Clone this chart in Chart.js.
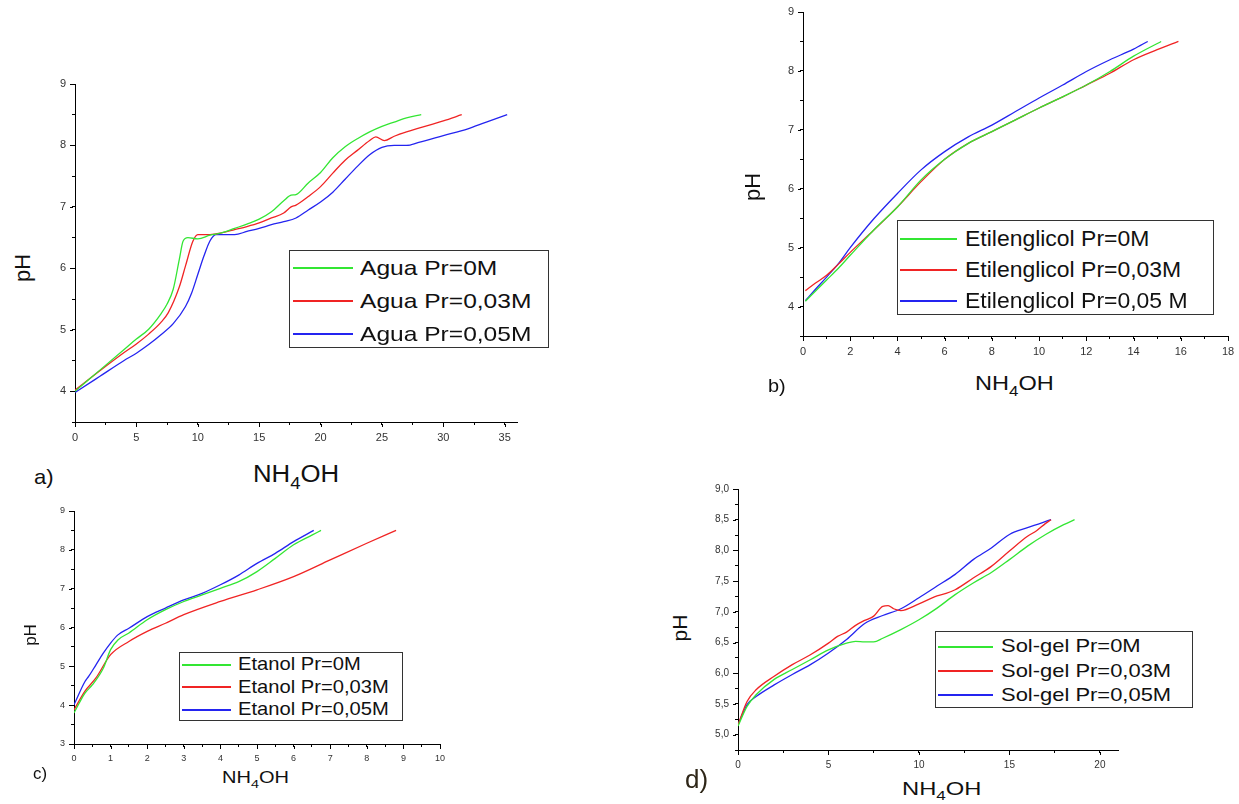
<!DOCTYPE html>
<html>
<head>
<meta charset="utf-8">
<script src="https://cdn.jsdelivr.net/npm/chart.js@4.4.0/dist/chart.umd.min.js"></script>
<style>
body{margin:0;background:#fff;width:1239px;height:804px;position:relative;overflow:hidden;font-family:"Liberation Sans",Arial,sans-serif;color:#111}
canvas{position:absolute}
.t{position:absolute;line-height:1;white-space:nowrap;transform-origin:0 0}
.t sub{font-size:0.72em;line-height:0;vertical-align:-0.4em}
.v{position:absolute;line-height:1;white-space:nowrap;transform:translate(-50%,-50%) rotate(-90deg)}
.lg{position:absolute;border:1px solid #333;box-sizing:border-box;background:#fff}
.sw{position:absolute;height:2px}
.lt{position:absolute;white-space:nowrap;transform-origin:0 50%;color:#111}
</style>
</head>
<body>
<script>
// a) Agua
var aguaX0 = [0,2,4,5,6,7,7.5,8,8.5,8.8,9.2,10,11,12,13,14,15,16,17,17.6,18,19,20,21,22,23,24,25,26,27,28.2];
var aguaY0 = [4.0,4.34,4.68,4.85,5.01,5.26,5.42,5.66,6.15,6.44,6.5,6.48,6.54,6.58,6.65,6.72,6.8,6.92,7.1,7.19,7.2,7.39,7.56,7.8,7.98,8.11,8.22,8.31,8.38,8.45,8.5];
var aguaX03 = [0,2,4,5,6,7,7.6,8.5,9,9.6,10,11,12,13,14,15,16,17,17.6,18,19,20,21,22,23,24,24.5,25.2,26,27,28,29,30,31.5];
var aguaY03 = [4.02,4.33,4.63,4.77,4.93,5.12,5.28,5.7,6.04,6.44,6.55,6.55,6.58,6.63,6.68,6.74,6.82,6.9,7.0,7.03,7.17,7.33,7.55,7.76,7.92,8.08,8.14,8.08,8.15,8.22,8.28,8.34,8.4,8.5];
var aguaX05 = [0,2,4,5,6,7,8,9,9.5,10,10.5,11,11.5,12,13,14,15,16,17,18,19,20,21,22,23,24,25,26,27,28,30,32,33.5,35.2];
var aguaY05 = [3.98,4.24,4.5,4.62,4.76,4.92,5.1,5.38,5.6,5.9,6.2,6.45,6.55,6.55,6.55,6.6,6.65,6.71,6.76,6.82,6.95,7.08,7.24,7.45,7.66,7.85,7.97,8.0,8.0,8.05,8.16,8.27,8.38,8.5];

// b) Etilenglicol
var etilX0 = [0.1,0.5,1,1.5,2,3,4,5,6,7,8,9,10,11,12,13,14,15.17];
var etilY0 = [4.09,4.25,4.45,4.65,4.87,5.3,5.69,6.15,6.5,6.77,6.97,7.17,7.37,7.56,7.76,7.99,8.25,8.5];
var etilX03 = [0.1,0.5,1,1.5,2,3,4,5,6,7,8,9,10,11,12,13,14,15,15.9];
var etilY03 = [4.27,4.39,4.53,4.72,4.92,5.3,5.69,6.12,6.5,6.77,6.97,7.17,7.37,7.56,7.76,7.96,8.19,8.36,8.5];
var etilX05 = [0.1,0.5,1,1.5,2,3,4,5,6,7,8,9,10,11,12,13,14,14.6];
var etilY05 = [4.1,4.28,4.5,4.73,5.0,5.49,5.92,6.32,6.63,6.88,7.08,7.31,7.54,7.76,7.99,8.19,8.37,8.5];

// c) Etanol
var etanX0 = [0,0.3,0.5,0.8,1,1.2,1.5,2,2.5,3,3.5,4,4.5,5,5.5,6,6.5,6.75];
var etanY0 = [3.8,4.31,4.52,4.95,5.43,5.68,5.86,6.2,6.46,6.67,6.84,7.01,7.18,7.44,7.78,8.13,8.38,8.5];
var etanX03 = [0,0.3,0.6,1,1.5,2,2.5,3,4,5,6,7,8,8.8];
var etanY03 = [3.88,4.36,4.7,5.3,5.64,5.9,6.11,6.33,6.67,6.97,7.31,7.74,8.17,8.5];
var etanX05 = [0,0.3,0.4,0.6,0.8,1,1.2,1.5,2,2.5,3,3.5,4,4.5,5,5.5,6,6.55];
var etanY05 = [4.01,4.61,4.74,5.04,5.34,5.6,5.81,5.98,6.28,6.5,6.71,6.88,7.1,7.35,7.65,7.91,8.21,8.5];

// d) Sol-gel
var solX0 = [0,0.5,1,2,3,4,5,6,6.5,7,7.5,8,9,10,11,12,13,14,15,16,17,18,18.6];
var solY0 = [5.14,5.46,5.65,5.9,6.06,6.22,6.38,6.49,6.52,6.51,6.51,6.57,6.71,6.87,7.06,7.28,7.47,7.64,7.85,8.07,8.26,8.42,8.5];
var solX03 = [0,0.5,1,2,3,4,5,5.5,6,6.5,7,7.5,8,8.3,8.6,9,10,11,11.5,12,13,14,15,16,16.5,17,17.3];
var solY03 = [5.16,5.54,5.73,5.95,6.14,6.3,6.49,6.6,6.67,6.78,6.86,6.93,7.09,7.1,7.05,7.02,7.13,7.26,7.3,7.36,7.55,7.74,7.99,8.23,8.32,8.44,8.5];
var solX05 = [0,0.5,1,2,3,4,5,6,7,8,9,10,11,12,13,14,15,16,17.3];
var solY05 = [5.16,5.49,5.62,5.81,5.98,6.14,6.33,6.55,6.81,6.94,7.05,7.23,7.42,7.61,7.85,8.04,8.26,8.37,8.5];

var labelsAgua = ['Agua Pr=0M','Agua Pr=0,03M','Agua Pr=0,05M'];
var labelsEtil = ['Etilenglicol Pr=0M','Etilenglicol Pr=0,03M','Etilenglicol Pr=0,05 M'];
var labelsEtan = ['Etanol Pr=0M','Etanol Pr=0,03M','Etanol Pr=0,05M'];
var labelsSol = ['Sol-gel Pr=0M','Sol-gel Pr=0,03M','Sol-gel Pr=0,05M'];

var colors = ['#33e633','#f02424','#2424f0'];

Chart.defaults.font.family = '"Liberation Sans", Arial, sans-serif';

// minor ticks are drawn by the grid (3px), major ones get 2px more here
var majorTicks = {
  id: 'majorTicks',
  afterDraw: function(chart) {
    var ctx = chart.ctx;
    ctx.save();
    ctx.strokeStyle = '#000';
    ctx.lineWidth = 1;
    ['x', 'y'].forEach(function(k) {
      var s = chart.scales[k];
      s.ticks.forEach(function(t, i) {
        if (!t.label) return;
        var p = Math.round(s.getPixelForTick(i)) + 0.5;
        ctx.beginPath();
        if (k === 'x') { ctx.moveTo(p, s.top + 2); ctx.lineTo(p, s.top + 5); }
        else { ctx.moveTo(s.right - 2, p); ctx.lineTo(s.right - 5, p); }
        ctx.stroke();
      });
    });
    ctx.restore();
  }
};

function pts(xs, ys) { return xs.map(function(x, i) { return {x: x, y: ys[i]}; }); }

function plain(v) { return String(v); }
function comma(v) { return v.toFixed(1).replace('.', ','); }

function axis(min, max, step, major, size, fmt, fit) {
  return {
    type: 'linear', min: min, max: max,
    ticks: {
      stepSize: step, autoSkip: false, maxRotation: 0, includeBounds: false,
      padding: 6, color: '#333', font: {size: size},
      callback: function(v) { var r = v / major; return Math.abs(r - Math.round(r)) < 1e-6 ? fmt(v) : ''; }
    },
    grid: {drawOnChartArea: false, tickLength: 3, color: '#000'},
    border: {color: '#000', width: 1},
    afterFit: fit
  };
}

function panel(box, xs, ys, xAxis, yAxis) {
  var cv = document.createElement('canvas');
  cv.width = box[2]; cv.height = box[3];
  cv.style.left = box[0] + 'px'; cv.style.top = box[1] + 'px';
  document.body.appendChild(cv);
  new Chart(cv, {
    type: 'line',
    data: {datasets: xs.map(function(x, i) {
      return {data: pts(x, ys[i]), borderColor: colors[i], borderWidth: 1.3, pointRadius: 0,
              cubicInterpolationMode: 'monotone', fill: false};
    })},
    options: {
      responsive: false, animation: false, events: [],
      layout: {padding: {top: 14, right: 15, left: 0, bottom: 0}},
      plugins: {legend: {display: false}, tooltip: {enabled: false}},
      scales: {x: xAxis, y: yAxis}
    },
    plugins: [majorTicks]
  });
}

function yFit(s) { s.width = 40; }
function xFit(s) { s.height = 25; }

panel([35, 70, 497, 377], [aguaX0, aguaX03, aguaX05], [aguaY0, aguaY03, aguaY05],
  axis(0, 36, 2.5, 5, 11, plain, xFit), axis(3.5, 9, 0.5, 1, 11, plain, yFit));
panel([763, -2, 480, 363], [etilX0, etilX03, etilX05], [etilY0, etilY03, etilY05],
  axis(0, 18, 1, 2, 11, plain, xFit), axis(3.5, 9, 0.5, 1, 11, plain, yFit));
panel([34, 497, 421, 272], [etanX0, etanX03, etanX05], [etanY0, etanY03, etanY05],
  axis(0, 10, 0.5, 1, 9, plain, xFit), axis(3, 9, 0.5, 1, 9, plain, yFit));
panel([698, 475, 435, 300], [solX0, solX03, solX05], [solY0, solY03, solY05],
  axis(0, 21, 2.5, 5, 10, plain, xFit), axis(4.75, 9, 0.25, 0.5, 10, comma, yFit));

function text(html, left, base, size, sx, color) {
  var d = document.createElement('div');
  d.className = 't';
  d.innerHTML = html;
  d.style.left = left + 'px';
  d.style.top = (base - 0.847 * size) + 'px';
  d.style.fontSize = size + 'px';
  d.style.transform = 'scaleX(' + sx + ')';
  if (color) d.style.color = color;
  document.body.appendChild(d);
}
function vtext(html, cx, cy, size) {
  var d = document.createElement('div');
  d.className = 'v';
  d.innerHTML = html;
  d.style.left = cx + 'px'; d.style.top = cy + 'px';
  d.style.fontSize = size + 'px';
  document.body.appendChild(d);
}
function legend(box, labels, firstRow, rowH, sw, textX, size, sx) {
  var d = document.createElement('div');
  d.className = 'lg';
  d.style.left = box[0] + 'px'; d.style.top = box[1] + 'px';
  d.style.width = box[2] + 'px'; d.style.height = box[3] + 'px';
  document.body.appendChild(d);
  labels.forEach(function(lab, i) {
    var cy = firstRow + i * rowH;
    var s = document.createElement('div');
    s.className = 'sw';
    s.style.left = sw[0] + 'px'; s.style.width = (sw[1] - sw[0]) + 'px';
    s.style.top = (cy - 1) + 'px';
    s.style.background = colors[i];
    document.body.appendChild(s);
    var t = document.createElement('div');
    t.className = 'lt';
    t.textContent = lab;
    t.style.left = textX + 'px';
    t.style.top = (cy - rowH / 2) + 'px';
    t.style.height = rowH + 'px';
    t.style.lineHeight = rowH + 'px';
    t.style.fontSize = size + 'px';
    t.style.transform = 'scaleX(' + sx + ')';
    document.body.appendChild(t);
  });
}

var nh = 'NH<sub>4</sub>OH';

// a)
vtext('pH', 23, 268, 22);
text(nh, 253, 482, 23, 1.12);
text('a)', 34, 484, 21, 1.05);
legend([289, 250, 260, 98], labelsAgua, 267.5, 33, [293, 353], 360, 21, 1.17);

// b)
vtext('pH', 753, 187, 22);
text(nh, 975, 390, 21, 1.12);
text('b)', 768, 392, 19, 1.05);
legend([897, 220, 317, 95], labelsEtil, 238.5, 31, [900, 957], 965, 22.5, 1.02);

// c)
vtext('pH', 30, 635, 17);
text(nh, 222, 784, 16, 1.25);
text('c)', 33, 780, 16, 1.05);
legend([179, 652, 224, 69], labelsEtan, 664.5, 22.5, [182, 231], 238, 17.7, 1.14);

// d)
vtext('pH', 679, 628, 21);
text(nh, 902, 795, 19, 1.25);
text('d)', 685, 788, 26, 1.0, '#2e2618');
legend([935, 631, 258, 77], labelsSol, 646.5, 24.3, [938, 993], 1001, 18.6, 1.18);
</script>
</body>
</html>
